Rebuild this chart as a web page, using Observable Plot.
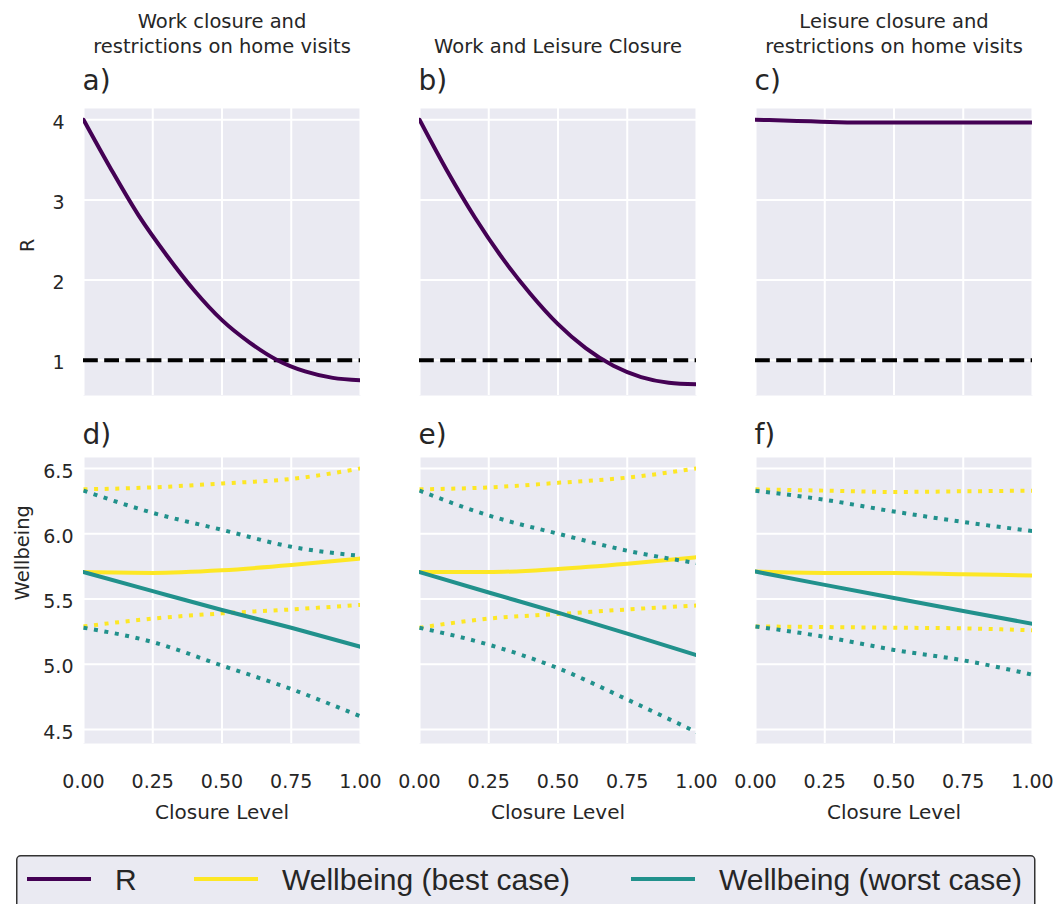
<!DOCTYPE html>
<html>
<head>
<meta charset="utf-8">
<script src="https://cdn.jsdelivr.net/npm/d3@7"></script>
<script src="https://cdn.jsdelivr.net/npm/@observablehq/plot@0.6"></script>
<style>
  html, body { margin: 0; padding: 0; background: white; }
  #root { position: relative; width: 1060px; height: 904px; overflow: hidden; background: white; }
</style>
</head>
<body>
<div id="root"></div>
<script>
// ---------------- data ----------------
const columnTitles = ["Work closure and\nrestrictions on home visits", "Work and Leisure Closure", "Leisure closure and\nrestrictions on home visits"];
const topLetters = ["a)", "b)", "c)"];
const bottomLetters = ["d)", "e)", "f)"];

const closureR = [0, 0.1, 0.2, 0.3, 0.4, 0.5, 0.6, 0.7, 0.8, 0.9, 1.0];
const rWork        = [4.00, 3.38, 2.80, 2.31, 1.87, 1.50, 1.22, 1.00, 0.86, 0.78, 0.75];
const rWorkLeisure = [4.00, 3.36, 2.78, 2.27, 1.83, 1.45, 1.15, 0.93, 0.79, 0.72, 0.70];
const rLeisure     = [4.00, 3.99, 3.98, 3.97, 3.965, 3.965, 3.965, 3.965, 3.965, 3.965, 3.965];
const rThreshold = 1;

const closureW = [0, 0.25, 0.5, 0.75, 1.0];
// panel d: work closure and restrictions on home visits
const bestMidD  = [5.706, 5.700, 5.720, 5.760, 5.810];
const bestHiD   = [6.340, 6.355, 6.385, 6.420, 6.500];
const bestLoD   = [5.290, 5.350, 5.390, 5.420, 5.455];
const worstMidD = [5.706, 5.560, 5.416, 5.280, 5.134];
const worstHiD  = [6.330, 6.160, 6.030, 5.900, 5.830];
const worstLoD  = [5.280, 5.170, 4.990, 4.810, 4.600];
// panel e: work and leisure closure
const bestMidE  = [5.706, 5.706, 5.730, 5.770, 5.820];
const bestHiE   = [6.340, 6.355, 6.390, 6.430, 6.500];
const bestLoE   = [5.280, 5.350, 5.385, 5.420, 5.450];
const worstMidE = [5.706, 5.550, 5.395, 5.235, 5.070];
const worstHiE  = [6.330, 6.140, 6.000, 5.870, 5.775];
const worstLoE  = [5.280, 5.150, 4.970, 4.730, 4.480];
// panel f: leisure closure and restrictions on home visits
const bestMidF  = [5.710, 5.700, 5.700, 5.690, 5.680];
const bestHiF   = [6.340, 6.330, 6.320, 6.325, 6.330];
const bestLoF   = [5.290, 5.285, 5.280, 5.275, 5.260];
const worstMidF = [5.710, 5.608, 5.508, 5.408, 5.310];
const worstHiF  = [6.330, 6.260, 6.170, 6.090, 6.020];
const worstLoF  = [5.290, 5.210, 5.110, 5.030, 4.920];

const xTicks = [0, 0.25, 0.5, 0.75, 1.0];
const rTicks = [1, 2, 3, 4];
const wTicks = [4.5, 5.0, 5.5, 6.0, 6.5];
const legendLabels = ["R", "Wellbeing (best case)", "Wellbeing (worst case)"];

// ---------------- style ----------------
const PURPLE = "#440154", YELLOW = "#fde725", TEAL = "#21918c";
const BG = "#eaeaf2", TXT = "#262626";
const frameLefts = [83, 419, 755];
const FW = 277;
const mLs = [83, 30, 30];
const mR = 29;

const rSeries = [rWork, rWorkLeisure, rLeisure];
const wSeries = [
  {bestMid: bestMidD, bestHi: bestHiD, bestLo: bestLoD, worstMid: worstMidD, worstHi: worstHiD, worstLo: worstLoD},
  {bestMid: bestMidE, bestHi: bestHiE, bestLo: bestLoE, worstMid: worstMidE, worstHi: worstHiE, worstLo: worstLoE},
  {bestMid: bestMidF, bestHi: bestHiF, bestLo: bestLoF, worstMid: worstMidF, worstHi: worstHiF, worstLo: worstLoF}
];

const root = document.getElementById("root");
const baseStyle = {fontFamily: "DejaVu Sans", fontSize: "19px", color: TXT, background: "transparent", overflow: "visible"};
const gridStyle = {stroke: "white", strokeOpacity: 1, strokeWidth: 2};

function place(el, left, top) {
  el.style.position = "absolute";
  el.style.left = left + "px";
  el.style.top = top + "px";
  root.appendChild(el);
}

// ---------------- top row: R ----------------
for (let c = 0; c < 3; c++) {
  const rows = closureR.map((x, i) => ({closure: x, r: rSeries[c][i]}));
  const mL = mLs[c];
  const chart = Plot.plot({
    width: mL + FW + mR, height: 405,
    marginTop: 108, marginBottom: 10, marginLeft: mL, marginRight: mR,
    x: {domain: [0, 1], axis: null},
    y: {domain: [0.56, 4.14], axis: null},
    style: baseStyle,
    marks: [
      Plot.frame({fill: BG, stroke: null}),
      Plot.gridX(xTicks, gridStyle),
      Plot.gridY(rTicks, gridStyle),
      c === 0 ? Plot.axisY(rTicks, {tickSize: 0, tickPadding: 19, dy: 3, label: null, tickFormat: d3.format("d")}) : null,
      Plot.ruleY([rThreshold], {stroke: "black", strokeWidth: 4, strokeDasharray: "14.8,6.4", strokeLinecap: "butt"}),
      Plot.line(rows, {x: "closure", y: "r", stroke: PURPLE, strokeWidth: 4, curve: "monotone-x", clip: true}),
      Plot.text([columnTitles[c]], {frameAnchor: "top", dy: -56, lineAnchor: "bottom", lineHeight: 1.25, fontSize: 19.5, fill: TXT}),
      Plot.text([topLetters[c]], {frameAnchor: "top-left", textAnchor: "start", dx: -1, dy: -19, lineAnchor: "bottom", fontSize: 28, fill: TXT}),
      c === 0 ? Plot.text(["R"], {frameAnchor: "left", dx: -56, rotate: -90, fontSize: 19, fill: TXT}) : null
    ]
  });
  place(chart, frameLefts[c] - mL, 0);
}

// ---------------- bottom row: Wellbeing ----------------
const dotted = {strokeWidth: 4, strokeDasharray: "4,6.6", strokeLinecap: "butt", curve: "monotone-x", clip: true};
const solid = {strokeWidth: 4, curve: "monotone-x", clip: true};
for (let c = 0; c < 3; c++) {
  const s = wSeries[c];
  const mk = (arr) => closureW.map((x, i) => ({closure: x, w: arr[i]}));
  const mL = mLs[c];
  const chart = Plot.plot({
    width: mL + FW + mR, height: 411,
    marginTop: 40, marginBottom: 85, marginLeft: mL, marginRight: mR,
    x: {domain: [0, 1], axis: null},
    y: {domain: [4.393, 6.584], axis: null},
    style: baseStyle,
    marks: [
      Plot.frame({fill: BG, stroke: null}),
      Plot.gridX(xTicks, gridStyle),
      Plot.gridY(wTicks, gridStyle),
      c === 0 ? Plot.axisY(wTicks, {tickSize: 0, tickPadding: 10, dy: 3, label: null, tickFormat: d3.format(".1f")}) : null,
      Plot.axisX(xTicks, {tickSize: 0, tickPadding: 30.5, label: null, tickFormat: d3.format(".2f")}),
      Plot.line(mk(s.bestMid), {x: "closure", y: "w", stroke: YELLOW, ...solid}),
      Plot.line(mk(s.bestHi), {x: "closure", y: "w", stroke: YELLOW, ...dotted}),
      Plot.line(mk(s.bestLo), {x: "closure", y: "w", stroke: YELLOW, ...dotted}),
      Plot.line(mk(s.worstMid), {x: "closure", y: "w", stroke: TEAL, ...solid}),
      Plot.line(mk(s.worstHi), {x: "closure", y: "w", stroke: TEAL, ...dotted}),
      Plot.line(mk(s.worstLo), {x: "closure", y: "w", stroke: TEAL, ...dotted}),
      Plot.text([bottomLetters[c]], {frameAnchor: "top-left", textAnchor: "start", dx: -1, dy: -14, lineAnchor: "bottom", fontSize: 28, fill: TXT}),
      Plot.text(["Closure Level"], {frameAnchor: "bottom", dy: 75, lineAnchor: "bottom", fontSize: 20, fill: TXT}),
      c === 0 ? Plot.text(["Wellbeing"], {frameAnchor: "left", dx: -61, rotate: -90, fontSize: 19.5, fill: TXT}) : null
    ]
  });
  place(chart, frameLefts[c] - mL, 417);
}

// ---------------- legend ----------------
const legendColors = [PURPLE, YELLOW, TEAL];
const swatchX = [27, 194, 631];
const labelX = [115, 282, 719];
const leg = d3.create("svg").attr("width", 1060).attr("height", 49)
  .style("position", "absolute").style("left", "0px").style("top", "855px");
leg.append("rect").attr("x", 16.75).attr("y", 0.75).attr("width", 1018).attr("height", 100)
  .attr("rx", 4).attr("fill", BG).attr("stroke", "#333333").attr("stroke-width", 1.5);
legendLabels.forEach((lab, i) => {
  leg.append("line").attr("x1", swatchX[i]).attr("x2", swatchX[i] + 64)
    .attr("y1", 24).attr("y2", 24).attr("stroke", legendColors[i]).attr("stroke-width", 4);
  leg.append("text").attr("x", labelX[i]).attr("y", 35)
    .attr("font-family", "Liberation Sans, Arial, sans-serif").attr("font-size", 30)
    .attr("fill", TXT).text(lab);
});
root.appendChild(leg.node());
</script>
</body>
</html>
